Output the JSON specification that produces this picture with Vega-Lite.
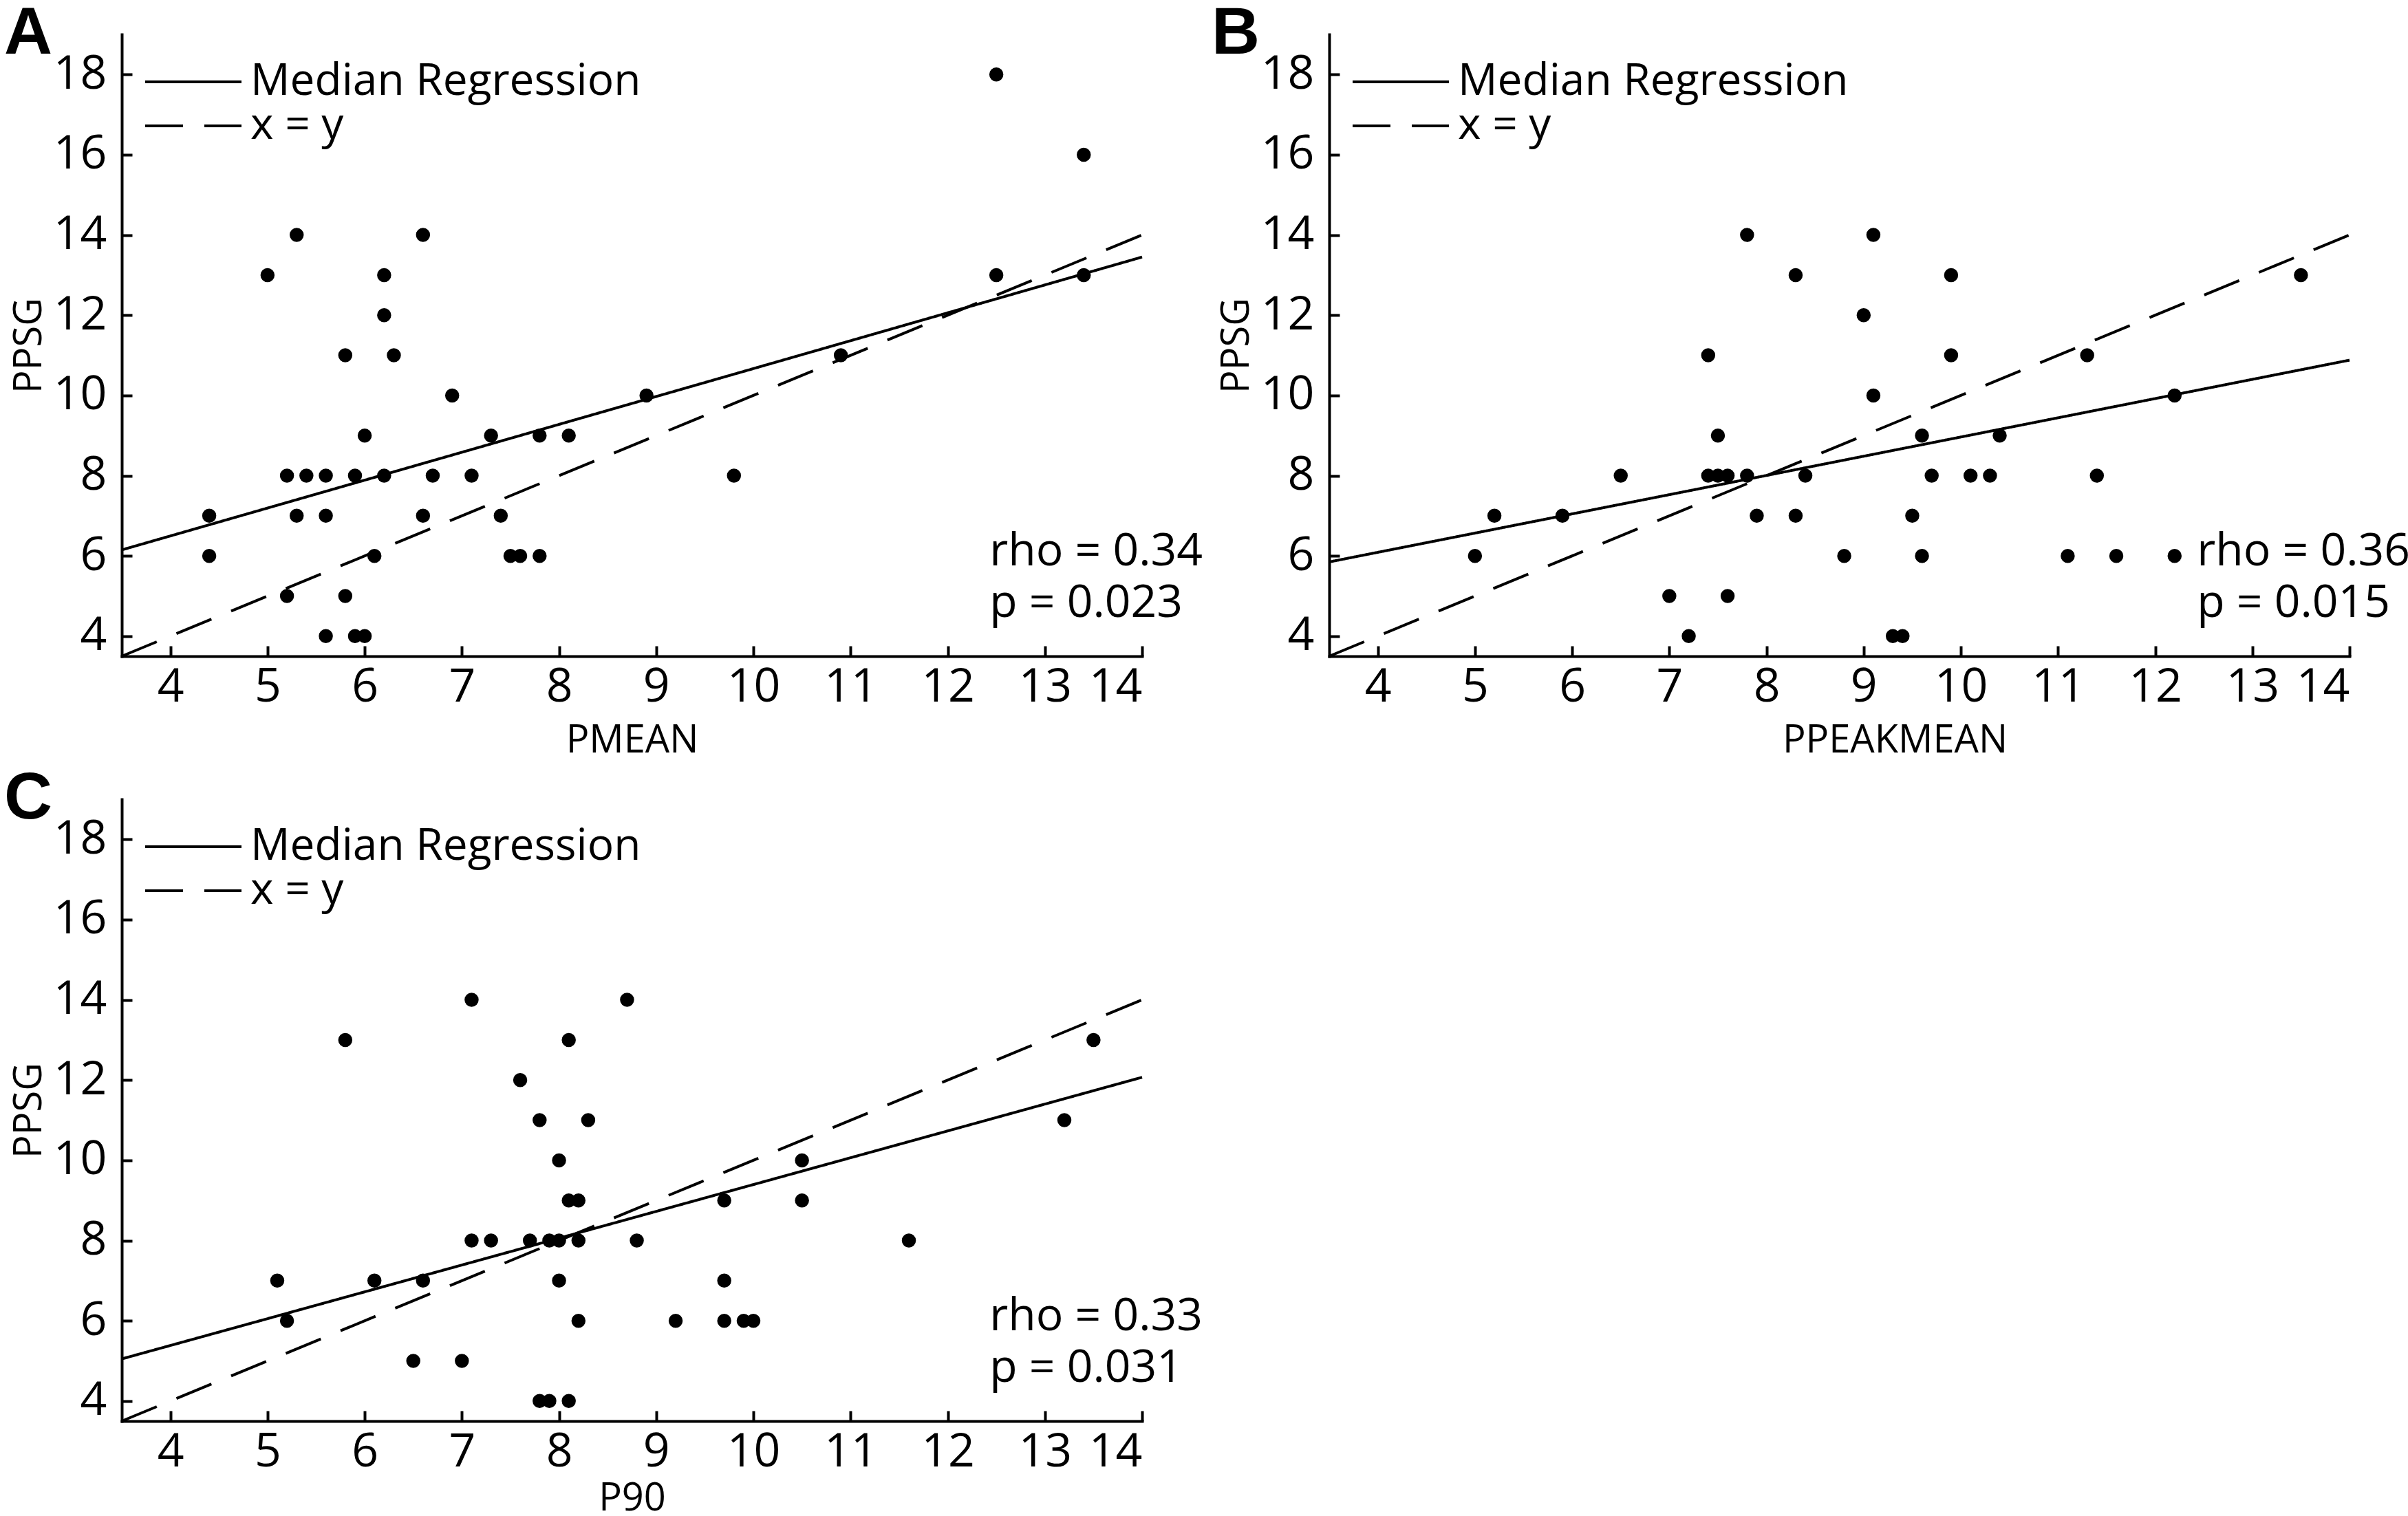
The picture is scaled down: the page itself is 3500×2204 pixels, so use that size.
{
  "$schema": "https://vega.github.io/schema/vega-lite/v6.json",
  "padding": {"left": 6, "top": 0, "right": 0, "bottom": 12},
  "config": {
    "font": "Open Sans",
    "view": {"stroke": null},
    "axis": {
      "grid": false, "format": "d",
      "domainColor": "black", "domainWidth": 4, "domainCap": "square",
      "tickColor": "black", "tickWidth": 4, "tickSize": -15,
      "labelFont": "Open Sans", "labelFontSize": 68, "labelColor": "black",
      "titleFont": "Open Sans", "titleFontSize": 56, "titleFontWeight": "normal", "titleColor": "black"
    },
    "axisX": {"labelPadding": 26, "titlePadding": 16},
    "axisY": {"labelPadding": 37, "titlePadding": 6},
    "legend": {"labelLimit": 0},
    "title": {"font": "Liberation Sans", "fontSize": 97, "fontWeight": "bold", "color": "black", "anchor": "start", "frame": "group", "baseline": "alphabetic", "offset": -48, "dx": -171}
  },
  "datasets": {
    "points": [
      {"panel":"A","x":4.4,"y":7},{"panel":"A","x":4.4,"y":6},{"panel":"A","x":5.0,"y":13},{"panel":"A","x":5.3,"y":14},
      {"panel":"A","x":5.2,"y":8},{"panel":"A","x":5.4,"y":8},{"panel":"A","x":5.6,"y":8},{"panel":"A","x":5.3,"y":7},
      {"panel":"A","x":5.6,"y":7},{"panel":"A","x":5.2,"y":5},{"panel":"A","x":5.8,"y":11},{"panel":"A","x":5.9,"y":8},
      {"panel":"A","x":5.8,"y":5},{"panel":"A","x":5.6,"y":4},{"panel":"A","x":5.9,"y":4},{"panel":"A","x":6.0,"y":4},
      {"panel":"A","x":6.0,"y":9},{"panel":"A","x":6.1,"y":6},{"panel":"A","x":6.2,"y":13},{"panel":"A","x":6.2,"y":12},
      {"panel":"A","x":6.3,"y":11},{"panel":"A","x":6.2,"y":8},{"panel":"A","x":6.6,"y":14},{"panel":"A","x":6.6,"y":7},
      {"panel":"A","x":6.7,"y":8},{"panel":"A","x":6.9,"y":10},{"panel":"A","x":7.1,"y":8},{"panel":"A","x":7.3,"y":9},
      {"panel":"A","x":7.4,"y":7},{"panel":"A","x":7.5,"y":6},{"panel":"A","x":7.6,"y":6},{"panel":"A","x":7.8,"y":9},
      {"panel":"A","x":7.8,"y":6},{"panel":"A","x":8.1,"y":9},{"panel":"A","x":8.9,"y":10},{"panel":"A","x":9.8,"y":8},
      {"panel":"A","x":10.9,"y":11},{"panel":"A","x":12.5,"y":18},{"panel":"A","x":12.5,"y":13},{"panel":"A","x":13.4,"y":16},
      {"panel":"A","x":13.4,"y":13},
      {"panel":"B","x":5.0,"y":6},{"panel":"B","x":5.2,"y":7},{"panel":"B","x":5.9,"y":7},{"panel":"B","x":6.5,"y":8},
      {"panel":"B","x":7.0,"y":5},{"panel":"B","x":7.2,"y":4},{"panel":"B","x":7.4,"y":11},{"panel":"B","x":7.5,"y":9},
      {"panel":"B","x":7.4,"y":8},{"panel":"B","x":7.5,"y":8},{"panel":"B","x":7.6,"y":8},{"panel":"B","x":7.6,"y":5},
      {"panel":"B","x":7.8,"y":14},{"panel":"B","x":7.8,"y":8},{"panel":"B","x":7.9,"y":7},{"panel":"B","x":8.3,"y":13},
      {"panel":"B","x":8.3,"y":7},{"panel":"B","x":8.4,"y":8},{"panel":"B","x":8.8,"y":6},{"panel":"B","x":9.0,"y":12},
      {"panel":"B","x":9.1,"y":14},{"panel":"B","x":9.1,"y":10},{"panel":"B","x":9.3,"y":4},{"panel":"B","x":9.4,"y":4},
      {"panel":"B","x":9.5,"y":7},{"panel":"B","x":9.6,"y":9},{"panel":"B","x":9.6,"y":6},{"panel":"B","x":9.7,"y":8},
      {"panel":"B","x":9.9,"y":13},{"panel":"B","x":9.9,"y":11},{"panel":"B","x":10.1,"y":8},{"panel":"B","x":10.3,"y":8},
      {"panel":"B","x":10.4,"y":9},{"panel":"B","x":11.1,"y":6},{"panel":"B","x":11.3,"y":11},{"panel":"B","x":11.4,"y":8},
      {"panel":"B","x":11.6,"y":6},{"panel":"B","x":12.2,"y":10},{"panel":"B","x":12.2,"y":6},{"panel":"B","x":13.5,"y":13},
      {"panel":"C","x":5.1,"y":7},{"panel":"C","x":5.2,"y":6},{"panel":"C","x":5.8,"y":13},{"panel":"C","x":6.1,"y":7},
      {"panel":"C","x":6.5,"y":5},{"panel":"C","x":6.6,"y":7},{"panel":"C","x":7.0,"y":5},{"panel":"C","x":7.1,"y":14},
      {"panel":"C","x":7.1,"y":8},{"panel":"C","x":7.3,"y":8},{"panel":"C","x":7.6,"y":12},{"panel":"C","x":7.7,"y":8},
      {"panel":"C","x":7.8,"y":11},{"panel":"C","x":7.8,"y":4},{"panel":"C","x":7.9,"y":8},{"panel":"C","x":7.9,"y":4},
      {"panel":"C","x":8.0,"y":10},{"panel":"C","x":8.0,"y":8},{"panel":"C","x":8.0,"y":7},{"panel":"C","x":8.1,"y":13},
      {"panel":"C","x":8.1,"y":9},{"panel":"C","x":8.1,"y":4},{"panel":"C","x":8.2,"y":9},{"panel":"C","x":8.2,"y":8},
      {"panel":"C","x":8.2,"y":6},{"panel":"C","x":8.3,"y":11},{"panel":"C","x":8.7,"y":14},{"panel":"C","x":8.8,"y":8},
      {"panel":"C","x":9.2,"y":6},{"panel":"C","x":9.7,"y":9},{"panel":"C","x":9.7,"y":7},{"panel":"C","x":9.7,"y":6},
      {"panel":"C","x":9.9,"y":6},{"panel":"C","x":10.0,"y":6},{"panel":"C","x":10.5,"y":10},{"panel":"C","x":10.5,"y":9},
      {"panel":"C","x":11.6,"y":8},{"panel":"C","x":13.2,"y":11},{"panel":"C","x":13.5,"y":13}
    ],
    "lines": [
      {"panel":"A","series":"Median Regression","x":3.5,"y":6.15},{"panel":"A","series":"Median Regression","x":14,"y":13.45},
      {"panel":"A","series":"x = y","x":3.5,"y":3.5},{"panel":"A","series":"x = y","x":14,"y":14},
      {"panel":"B","series":"Median Regression","x":3.5,"y":5.85},{"panel":"B","series":"Median Regression","x":14,"y":10.88},
      {"panel":"B","series":"x = y","x":3.5,"y":3.5},{"panel":"B","series":"x = y","x":14,"y":14},
      {"panel":"C","series":"Median Regression","x":3.5,"y":5.05},{"panel":"C","series":"Median Regression","x":14,"y":12.07},
      {"panel":"C","series":"x = y","x":3.5,"y":3.5},{"panel":"C","series":"x = y","x":14,"y":14}
    ],
    "stats": [
      {"panel":"A","stat":"rho = 0.34\np = 0.023"},
      {"panel":"B","stat":"rho = 0.36\np = 0.015"},
      {"panel":"C","stat":"rho = 0.33\np = 0.031"}
    ]
  },
  "columns": 2,
  "spacing": {"column": 13, "row": 8},
  "resolve": {"scale": {"strokeDash": "independent"}, "legend": {"strokeDash": "independent"}},
  "concat": [
    {
      "width": 1483, "height": 904,
      "title": {"text": "A"},
      "layer": [
        {
          "data": {"name": "lines"},
          "transform": [{"filter": "datum.panel === 'A'"}],
          "mark": {"type": "line", "strokeWidth": 4, "color": "black"},
          "encoding": {
            "x": {"field": "x", "type": "quantitative", "scale": {"domain": [3.5, 14], "nice": false, "zero": false}, "axis": {"values": [4,5,6,7,8,9,10,11,12,13,14], "title": "PMEAN"}},
            "y": {"field": "y", "type": "quantitative", "scale": {"domain": [3.5, 19], "nice": false, "zero": false}, "axis": {"values": [4,6,8,10,12,14,16,18], "title": "PPSG"}},
            "strokeDash": {"field": "series", "type": "nominal", "scale": {"domain": ["Median Regression", "x = y"], "range": [[1, 0], [55, 31]]},
              "legend": {"orient": "none", "legendX": 2, "legendY": 37, "title": null, "padding": 0, "symbolType": "M0,0H10", "symbolSize": 784, "symbolStrokeWidth": 4, "symbolStrokeColor": "black", "labelFont": "Open Sans", "labelFontSize": 64, "labelColor": "black", "labelOffset": 121, "rowPadding": -6}}
          }
        },
        {
          "data": {"name": "points"},
          "transform": [{"filter": "datum.panel === 'A'"}],
          "mark": {"type": "circle", "size": 420, "color": "black", "opacity": 1},
          "encoding": {"x": {"field": "x", "type": "quantitative"}, "y": {"field": "y", "type": "quantitative"}}
        },
        {
          "data": {"name": "stats"},
          "transform": [{"filter": "datum.panel === 'A'"}],
          "mark": {"type": "text", "align": "left", "baseline": "alphabetic", "fontSize": 66, "lineBreak": "\n", "lineHeight": 75, "color": "black"},
          "encoding": {"x": {"datum": 12.43}, "y": {"datum": 5.77}, "text": {"field": "stat"}}
        }
      ]
    },
    {
      "width": 1483, "height": 904,
      "title": {"text": "B"},
      "layer": [
        {
          "data": {"name": "lines"},
          "transform": [{"filter": "datum.panel === 'B'"}],
          "mark": {"type": "line", "strokeWidth": 4, "color": "black"},
          "encoding": {
            "x": {"field": "x", "type": "quantitative", "scale": {"domain": [3.5, 14], "nice": false, "zero": false}, "axis": {"values": [4,5,6,7,8,9,10,11,12,13,14], "title": "PPEAKMEAN", "titleX": 822}},
            "y": {"field": "y", "type": "quantitative", "scale": {"domain": [3.5, 19], "nice": false, "zero": false}, "axis": {"values": [4,6,8,10,12,14,16,18], "title": "PPSG"}},
            "strokeDash": {"field": "series", "type": "nominal", "scale": {"domain": ["Median Regression", "x = y"], "range": [[1, 0], [55, 31]]},
              "legend": {"orient": "none", "legendX": 2, "legendY": 37, "title": null, "padding": 0, "symbolType": "M0,0H10", "symbolSize": 784, "symbolStrokeWidth": 4, "symbolStrokeColor": "black", "labelFont": "Open Sans", "labelFontSize": 64, "labelColor": "black", "labelOffset": 121, "rowPadding": -6}}
          }
        },
        {
          "data": {"name": "points"},
          "transform": [{"filter": "datum.panel === 'B'"}],
          "mark": {"type": "circle", "size": 420, "color": "black", "opacity": 1},
          "encoding": {"x": {"field": "x", "type": "quantitative"}, "y": {"field": "y", "type": "quantitative"}}
        },
        {
          "data": {"name": "stats"},
          "transform": [{"filter": "datum.panel === 'B'"}],
          "mark": {"type": "text", "align": "left", "baseline": "alphabetic", "fontSize": 66, "lineBreak": "\n", "lineHeight": 75, "color": "black"},
          "encoding": {"x": {"datum": 12.43}, "y": {"datum": 5.77}, "text": {"field": "stat"}}
        }
      ]
    },
    {
      "width": 1483, "height": 904,
      "title": {"text": "C"},
      "layer": [
        {
          "data": {"name": "lines"},
          "transform": [{"filter": "datum.panel === 'C'"}],
          "mark": {"type": "line", "strokeWidth": 4, "color": "black"},
          "encoding": {
            "x": {"field": "x", "type": "quantitative", "scale": {"domain": [3.5, 14], "nice": false, "zero": false}, "axis": {"values": [4,5,6,7,8,9,10,11,12,13,14], "title": "P90", "titlePadding": 6}},
            "y": {"field": "y", "type": "quantitative", "scale": {"domain": [3.5, 19], "nice": false, "zero": false}, "axis": {"values": [4,6,8,10,12,14,16,18], "title": "PPSG"}},
            "strokeDash": {"field": "series", "type": "nominal", "scale": {"domain": ["Median Regression", "x = y"], "range": [[1, 0], [55, 31]]},
              "legend": {"orient": "none", "legendX": 2, "legendY": 37, "title": null, "padding": 0, "symbolType": "M0,0H10", "symbolSize": 784, "symbolStrokeWidth": 4, "symbolStrokeColor": "black", "labelFont": "Open Sans", "labelFontSize": 64, "labelColor": "black", "labelOffset": 121, "rowPadding": -6}}
          }
        },
        {
          "data": {"name": "points"},
          "transform": [{"filter": "datum.panel === 'C'"}],
          "mark": {"type": "circle", "size": 420, "color": "black", "opacity": 1},
          "encoding": {"x": {"field": "x", "type": "quantitative"}, "y": {"field": "y", "type": "quantitative"}}
        },
        {
          "data": {"name": "stats"},
          "transform": [{"filter": "datum.panel === 'C'"}],
          "mark": {"type": "text", "align": "left", "baseline": "alphabetic", "fontSize": 66, "lineBreak": "\n", "lineHeight": 75, "color": "black"},
          "encoding": {"x": {"datum": 12.43}, "y": {"datum": 5.77}, "text": {"field": "stat"}}
        }
      ]
    }
  ]
}
